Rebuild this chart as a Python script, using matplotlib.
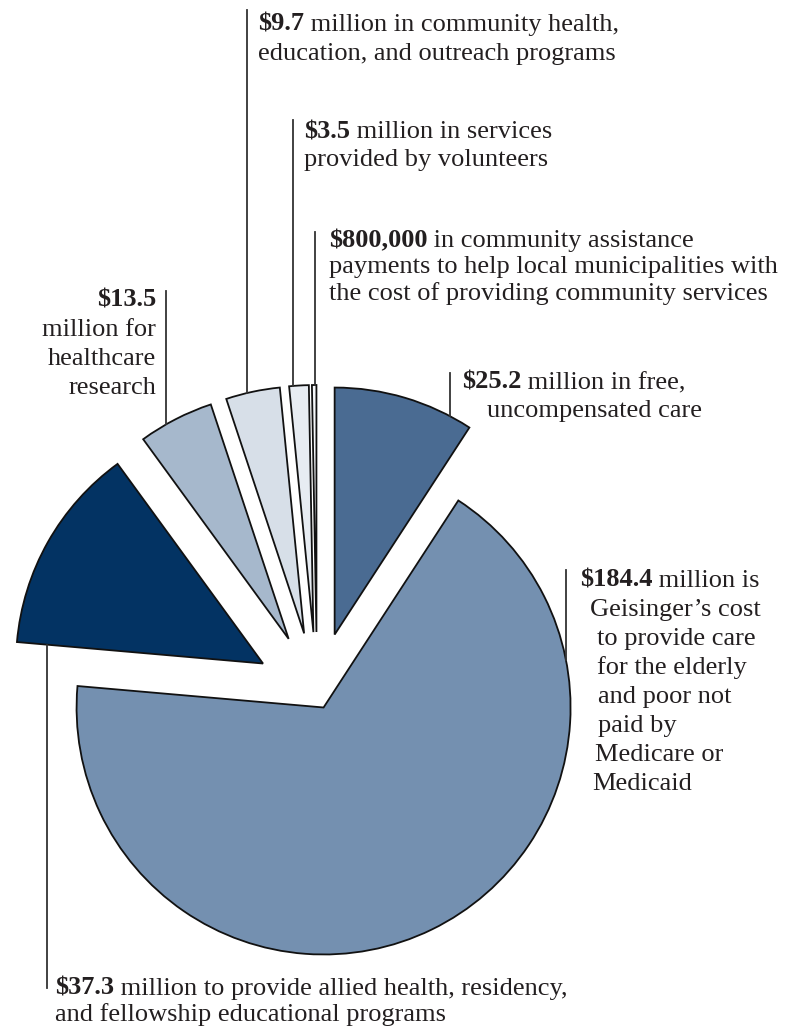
import math
import matplotlib.pyplot as plt

# slices, clockwise from 12 o'clock ($ millions)
values = [25.2, 184.4, 37.3, 13.5, 9.7, 3.5, 0.8]
amounts = ['$25.2', '$184.4', '$37.3', '$13.5', '$9.7', '$3.5', '$800,000']
descriptions = [
    ['million in free,', 'uncompensated care'],
    ['million is', "Geisinger\u2019s cost", 'to provide care', 'for the elderly',
     'and poor not', 'paid by', 'Medicare or', 'Medicaid'],
    ['million to provide allied health, residency,',
     'and fellowship educational programs'],
    ['', 'million for', 'healthcare', 'research'],
    ['million in community health,', 'education, and outreach programs'],
    ['million in services', 'provided by volunteers'],
    ['in community assistance', 'payments to help local municipalities with',
     'the cost of providing community services'],
]

colors = ['#4a6b92', '#7490b0', '#033363', '#a6b8cc', '#d7dfe8', '#e7ecf2', '#f6f8fa']
explode = [62, 15, 62, 62, 62, 62, 62]

W, H = 797, 1028
FONT = 'Liberation Serif'
FS = 19
TXT = '#231f20'

# leader x, leader top, text x, first baseline, leading, per-line indents, align (image px)
layout = [
    (450, 373, 462, 389, 28.5, [0, 25], 'left'),
    (566, 570, 580, 587, 29, [0, 10, 17, 17, 18, 18, 15, 12], 'left'),
    (47, 988, 55, 995, 26, [0, 0], 'left'),
    (166, 291, 156, 307, 29, [0, 0, 0, 0], 'right'),
    (247, 10, 258, 31, 29, [0, 0], 'left'),
    (293, 120, 304, 138, 28, [0, 0], 'left'),
    (315, 232, 329, 247, 26.5, [0, 0, 0], 'left'),
]

fig = plt.figure(figsize=(W / 100, H / 100), dpi=100)
ax = fig.add_axes([0, 0, 1, 1])

wedges, _ = ax.pie(values, colors=colors, startangle=90, counterclock=False,
                   radius=247, center=(317, H - 694), explode=explode,
                   wedgeprops=dict(edgecolor='#111111', linewidth=1.3))
ax.set_xlim(0, W)
ax.set_ylim(0, H)
ax.axis('off')

renderer = fig.canvas.get_renderer()

for i, w in enumerate(wedges):
    lx, ltop, tx, base, lead, indents, ha = layout[i]
    cx, cy = w.center
    r = w.r
    if i == 2:
        # leader hangs from the lower straight edge of the wedge
        ang = math.radians(w.theta2)
        y_end = cy + (lx - cx) * math.tan(ang)
        ax.plot([lx, lx], [y_end, H - ltop], color='#333333', lw=1.3)
    else:
        y_end = cy + math.sqrt(max(r ** 2 - (lx - cx) ** 2, 0))
        ax.plot([lx, lx], [H - ltop, y_end], color='#333333', lw=1.3)

    lines = descriptions[i]
    for j, line in enumerate(lines):
        y = H - (base + j * lead)
        x = tx + indents[j]
        if j == 0:
            t = ax.text(x, y, amounts[i], fontsize=FS, family=FONT, fontweight='bold',
                        color=TXT, ha=ha, va='baseline')
            if line:
                bb = t.get_window_extent(renderer)
                ax.text(bb.x1, y, ' ' + line, fontsize=FS, family=FONT,
                        color=TXT, ha='left', va='baseline')
        else:
            ax.text(x, y, line, fontsize=FS, family=FONT, color=TXT,
                    ha=ha, va='baseline')

plt.savefig('out.png', dpi=100)
plt.close()
